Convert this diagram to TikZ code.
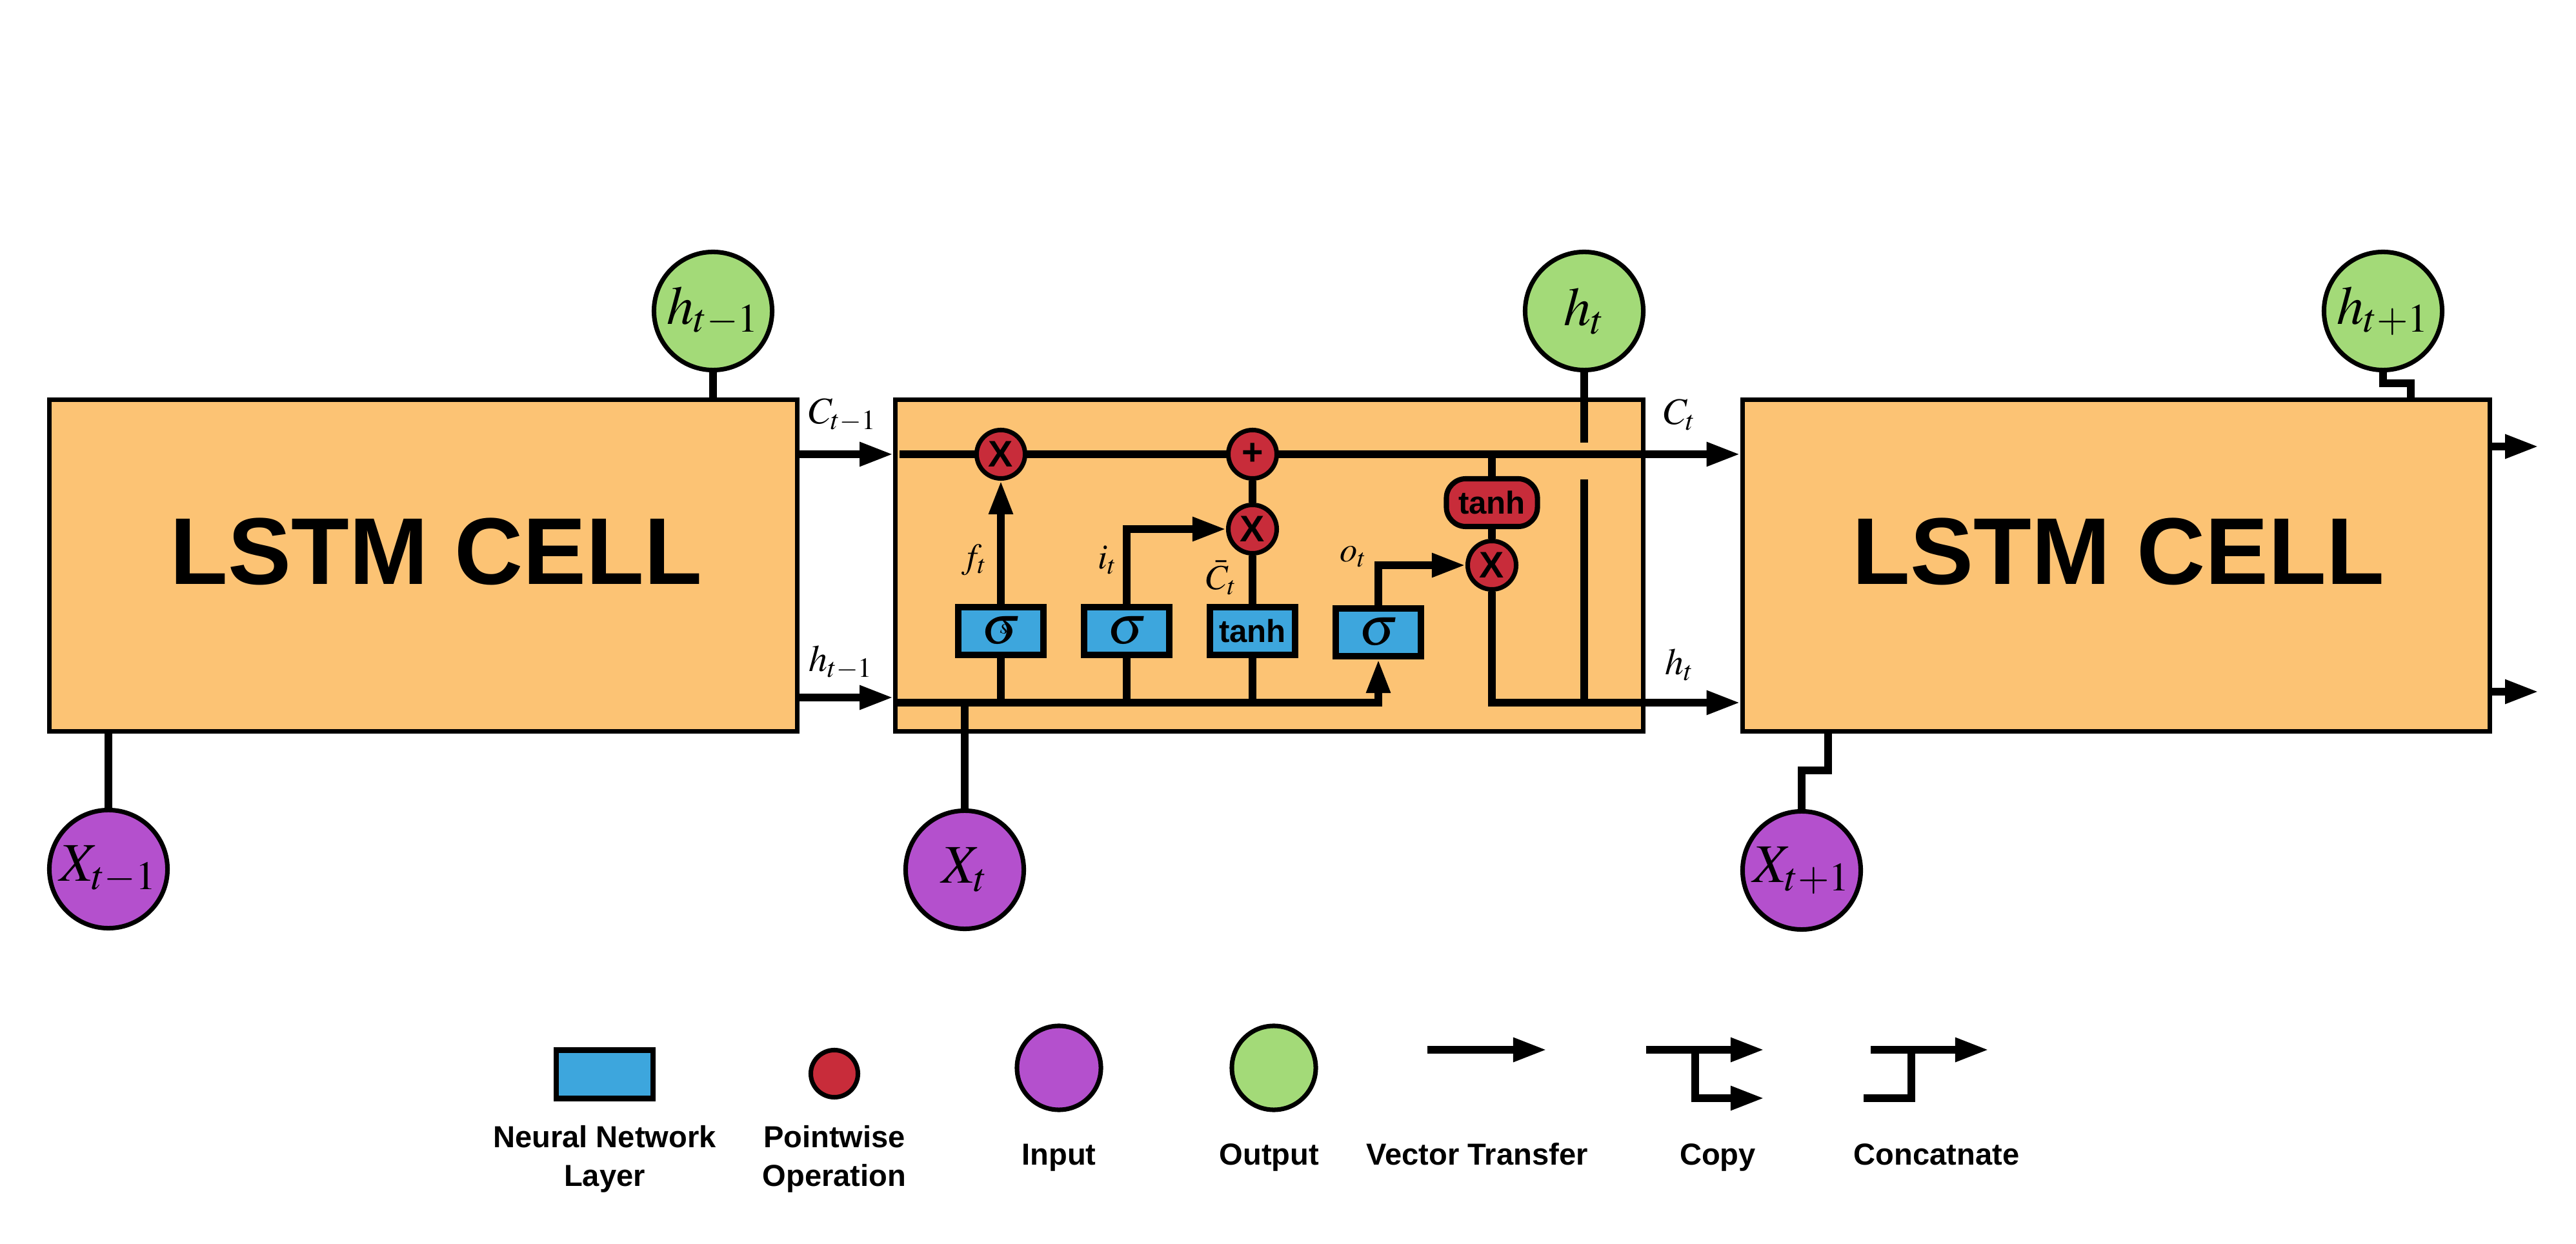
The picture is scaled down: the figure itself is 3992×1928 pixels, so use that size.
\documentclass[tikz,border=0pt]{standalone}
\usepackage{mathptmx}
\usepackage[no-math]{fontspec}
\setmainfont{Liberation Sans}
\usetikzlibrary{arrows.meta}
\definecolor{cellor}{RGB}{252,195,116}
\definecolor{nnblue}{RGB}{61,166,221}
\definecolor{opred}{RGB}{200,44,58}
\definecolor{inpurple}{RGB}{180,80,205}
\definecolor{outgreen}{RGB}{163,218,120}
\tikzset{
  ln/.style={line width=3.3pt},
  arr/.style={line width=3.3pt, -{Triangle[length=0.52cm,width=0.35cm]}},
  cellbox/.style={draw, line width=2pt, fill=cellor, minimum width=11.58cm, minimum height=5.13cm, inner sep=0pt},
  bigtxt/.style={inner sep=0pt, font=\fontsize{41.8}{48}\selectfont\bfseries},
  iocirc/.style={circle, draw, line width=2pt, minimum size=1.83cm, inner sep=0pt, font=\fontsize{24}{28}\selectfont},
  incirc/.style={iocirc, fill=inpurple},
  outcirc/.style={iocirc, fill=outgreen},
  opcirc/.style={circle, draw, line width=2pt, fill=opred, minimum size=0.75cm, inner sep=0pt, font=\fontsize{16.3}{18}\selectfont\bfseries},
  nnbox/.style={draw, line width=2.85pt, fill=nnblue, minimum width=1.32cm, minimum height=0.74cm, inner sep=0pt, font=\fontsize{24}{26}\selectfont},
  tanhtxt/.style={font=\fontsize{14}{16}\selectfont\bfseries},
  optanh/.style={draw, line width=2.3pt, fill=opred, rounded corners=0.3cm, minimum width=1.41cm, minimum height=0.74cm, inner sep=0pt, tanhtxt},
  mlbl/.style={inner sep=0pt, font=\fontsize{16.5}{18}\selectfont},
  ilbl/.style={inner sep=0pt, font=\fontsize{15.5}{17}\selectfont},
  lgtxt/.style={inner sep=0pt, align=center, font=\fontsize{13.4}{16.8}\selectfont\bfseries},
}
\begin{document}
\begin{tikzpicture}[x=0.01cm,y=-0.01cm]
\useasboundingbox (0,0) rectangle (3992,1928);
% helper coordinates
\coordinate (cy) at (0,704);
\coordinate (hy) at (0,1081);
\coordinate (hy2) at (0,1089);
\coordinate (gapA) at (0,686);
\coordinate (gapB) at (0,743);
\coordinate (ry1) at (0,692);
\coordinate (ry2) at (0,1072);
\coordinate (rend) at (3934,0);
\coordinate (cstart) at (1394,704);
\coordinate (hnk) at (3736,594);
\coordinate (xnk) at (2833,1194);

% cells
\node[cellbox] (cellL) at (656,876.5) {};
\node[cellbox] (cellM) at (1967,876.5) {};
\node[cellbox] (cellR) at (3279.5,876.5) {};
\node[bigtxt] (lblL) at (676,855) {LSTM CELL};
\node[bigtxt] (lblR) at (3283,855) {LSTM CELL};

% arrows between cells
\draw[arr] (cellL.east |- cy) -- (cellM.west |- cy);
\draw[arr] (cellL.east |- hy) -- (cellM.west |- hy);
\draw[arr] (cellR.east |- ry1) -- (rend |- ry1);
\draw[arr] (cellR.east |- ry2) -- (rend |- ry2);

% outside labels
\node[mlbl] (lcp) at (1306,643) {$C_{t-1}$};
\node[mlbl] (lhp) at (1303,1027) {$h_{t-1}$};
\node[mlbl] (lct) at (2603,643) {$C_t$};
\node[mlbl] (lht) at (2603,1030) {$h_t$};

% cell state line (under the operation circles)
\draw[arr] (cstart) -- (cellR.west |- cy);

% gates
\node[nnbox] (sf) at (1551,978) {$\sigma$};
\node[inner sep=0pt, font=\fontsize{9}{9}\selectfont, rotate=-15] (sfs) at (1556,975) {$\mathrm{s}$};
\node[nnbox] (si) at (1746,978) {$\sigma$};
\node[nnbox, tanhtxt] (tc) at (1941,978) {tanh};
\node[nnbox] (so) at (2136,980) {$\sigma$};

% tanh on cell state
\node[optanh] (th2) at (2312,779) {tanh};
\draw[ln] (th2.north) -- (th2.north |- cy);

% pointwise ops
\node[opcirc] (fx) at (1551,704) {X};
\node[opcirc] (pl) at (1941,704) {+};
\node[opcirc] (ix) at (1941,820) {X};
\node[opcirc] (ox) at (2312,876) {X};

% hidden line inside the cell
\draw[ln] (sf.south) -- (sf.south |- hy2);
\draw[ln] (si.south) -- (si.south |- hy2);
\draw[ln] (tc.south) -- (tc.south |- hy2);
\draw[arr] (cellM.west |- hy2) -| (so.south);

% gate connections
\draw[arr] (sf.north) -- (fx.south);
\draw[arr] (si.north) |- (ix.west);
\draw[ln] (tc.north) -- (ix.south);
\draw[ln] (ix.north) -- (pl.south);
\draw[arr] (so.north) |- (ox.west);
\draw[ln] (th2.south) -- (ox.north);
\draw[arr] (ox.south) |- (cellR.west |- hy2);

% inner labels
\node[ilbl] (lf) at (1510,868) {$f_t$};
\node[ilbl] (li) at (1716,868) {$i_t$};
\node[ilbl] (lc) at (1893,895) {$\bar{C}_t$};
\node[ilbl] (lo) at (2097,863) {$o_t$};

% input / output circles
\node[outcirc] (hprev) at (1105,482) {$h_{t-1}$};
\node[incirc] (xprev) at (168,1347) {$X_{t-1}$};
\node[incirc] (xcur) at (1495,1348) {$X_t$};
\node[outcirc] (hcur) at (2455,482) {$h_t$};
\node[outcirc] (hnext) at (3693,482) {$h_{t+1}$};
\node[incirc] (xnext) at (2792,1349) {$X_{t+1}$};

\draw[ln] (hprev.south) -- (hprev.south |- cellL.north);
\draw[ln] (xprev.north) -- (xprev.north |- cellL.south);
\draw[ln] (xcur.north) -- (xcur.north |- hy2);
\draw[ln] (hcur.south) -- (hcur.south |- gapA);
\draw[ln] (hcur.south |- gapB) -- (hcur.south |- hy2);
\draw[ln] (hnext.south) |- (hnk) -- (hnk |- cellR.north);
\draw[ln] (xnext.north) |- (xnk) -- (xnk |- cellR.south);

% legend
\node[nnbox, line width=2.3pt, minimum width=1.50cm, minimum height=0.75cm] (lgnn) at (937,1665) {};
\node[opcirc, minimum size=0.73cm] (lgop) at (1293,1664) {};
\node[incirc, minimum size=1.30cm] (lgin) at (1641,1655) {};
\node[outcirc, minimum size=1.30cm] (lgout) at (1974,1655) {};
\coordinate (va) at (2212,1627);
\coordinate (vb) at (2397,1627);
\draw[arr] (va) -- (vb);
\coordinate (ca) at (2551,1627);
\coordinate (cb) at (2734,1627);
\coordinate (cc) at (2627,1627);
\coordinate (cd) at (2734,1702);
\draw[arr] (ca) -- (cb);
\draw[arr] (cc) |- (cd);
\coordinate (ka) at (2888,1702);
\coordinate (kb) at (2962,1627);
\coordinate (kc) at (2899,1627);
\coordinate (kd) at (3082,1627);
\draw[ln] (ka) -| (kb);
\draw[arr] (kc) -- (kd);

\node[lgtxt, anchor=base] (tnn) at (937,1838) {Neural Network\\Layer};
\node[lgtxt, anchor=base] (top) at (1293,1838) {Pointwise\\Operation};
\node[lgtxt, anchor=base] (tin) at (1641,1805) {Input};
\node[lgtxt, anchor=base] (tout) at (1967,1805) {Output};
\node[lgtxt, anchor=base] (tvt) at (2289,1805) {Vector Transfer};
\node[lgtxt, anchor=base] (tcp) at (2662,1805) {Copy};
\node[lgtxt, anchor=base] (tcc) at (3001,1805) {Concatnate};
\end{tikzpicture}
\end{document}
